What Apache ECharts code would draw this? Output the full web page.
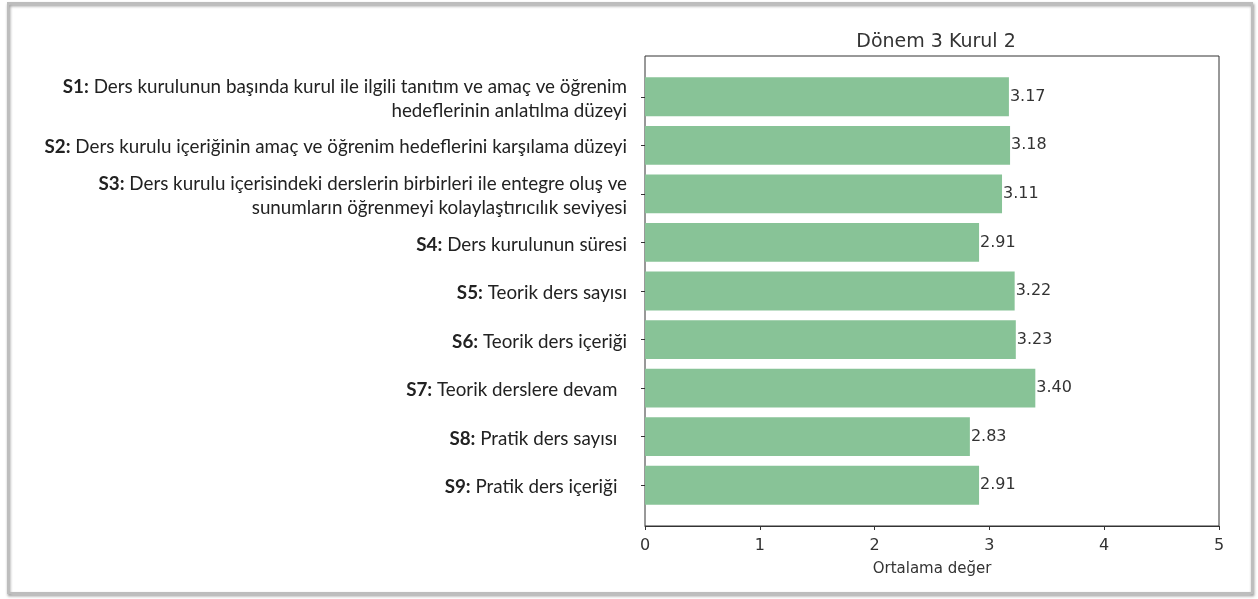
<!DOCTYPE html>
<html>
<head>
<meta charset="utf-8">
<script src="https://cdn.jsdelivr.net/npm/echarts@6/dist/echarts.min.js"></script>
<style>
  html, body { margin: 0; padding: 0; background: #fff; }
  #main { width: 1258px; height: 599px; }
</style>
</head>
<body>
<div id="main"></div>
<script>
// soru kodlari ve metinleri
var codes = ['S1:', 'S2:', 'S3:', 'S4:', 'S5:', 'S6:', 'S7:', 'S8:', 'S9:'];
var texts = [
  'Ders kurulunun başında kurul ile ilgili tanıtım ve amaç ve öğrenim\nhedeflerinin anlatılma düzeyi',
  'Ders kurulu içeriğinin amaç ve öğrenim hedeflerini karşılama düzeyi',
  'Ders kurulu içerisindeki derslerin birbirleri ile entegre oluş ve\nsunumların öğrenmeyi kolaylaştırıcılık seviyesi',
  'Ders kurulunun süresi',
  'Teorik ders sayısı',
  'Teorik ders içeriği',
  'Teorik derslere devam  ',
  'Pratik ders sayısı  ',
  'Pratik ders içeriği  '
];
var values = [3.17, 3.18, 3.11, 2.91, 3.22, 3.23, 3.40, 2.83, 2.91];
var xTicks = [0, 1, 2, 3, 4, 5];

var chart = echarts.init(document.getElementById('main'), null, { renderer: 'canvas' });

var gridLeft = 645, gridRight = 39, frameTop = 56, frameBottom = 73;
// matplotlib kenar payi: cubuklar -0.4..8.4, %5 pay -> -0.84..8.84
var unit = (599 - frameTop - frameBottom) / 9.68;
var pad = 0.34 * unit;

var option = {
  animation: false,
  backgroundColor: '#fff',
  title: {
    text: 'Dönem 3 Kurul 2',
    left: 931,
    textAlign: 'center',
    top: 28,
    textStyle: { fontFamily: 'DejaVu Sans', fontSize: 19, fontWeight: 'normal', color: '#333' }
  },
  graphic: [
    {
      type: 'rect',
      shape: { x: 8, y: 3, width: 1244, height: 590 },
      style: {
        fill: 'rgba(0,0,0,0)',
        stroke: '#bdbdbd',
        lineWidth: 2,
        shadowBlur: 3,
        shadowOffsetX: 1,
        shadowOffsetY: 2,
        shadowColor: 'rgba(0,0,0,0.5)'
      },
      z: -1
    }
  ],
  grid: [
    { left: gridLeft, right: gridRight, top: frameTop + pad, bottom: frameBottom + pad },
    { left: gridLeft, right: gridRight, top: frameTop, bottom: frameBottom, show: true,
      borderColor: '#333', borderWidth: 1, backgroundColor: 'transparent' }
  ],
  xAxis: [
    { gridIndex: 0, type: 'value', min: 0, max: 5, show: false },
    {
      gridIndex: 1, type: 'value', min: 0, max: 5, interval: 1,
      name: 'Ortalama değer', nameLocation: 'middle', nameGap: 36,
      nameTextStyle: { fontFamily: 'DejaVu Sans', fontSize: 15, color: '#333' },
      axisLine: { show: true, lineStyle: { color: '#333' } },
      axisTick: { show: true, length: 4, lineStyle: { color: '#333' } },
      axisLabel: { fontFamily: 'DejaVu Sans', fontSize: 16, color: '#333', margin: 12,
        formatter: function (v) { return xTicks.indexOf(v) >= 0 ? String(v) : ''; } },
      splitLine: { show: false }
    }
  ],
  yAxis: [
    {
      gridIndex: 0, type: 'category', inverse: true,
      data: texts,
      axisLine: { show: false },
      axisTick: { show: true, alignWithLabel: true, length: 4, lineStyle: { color: '#333' } },
      axisLabel: {
        margin: 18,
        lineHeight: 24,
        padding: [4, 0, 0, 0],
        formatter: function (v, i) {
          var lines = v.split('\n');
          var out = '{b|' + codes[i] + '}{t| ' + lines[0] + '}';
          for (var k = 1; k < lines.length; k++) out += '\n{t|' + lines[k] + '}';
          return out;
        },
        rich: {
          b: { fontFamily: 'Lato', fontWeight: 'bold', fontSize: 18.8, color: '#222', lineHeight: 24 },
          t: { fontFamily: 'Lato', fontSize: 18.8, color: '#222', lineHeight: 24 }
        }
      }
    },
    { gridIndex: 1, type: 'value', min: 0, max: 1, show: false }
  ],
  series: [
    {
      type: 'bar',
      xAxisIndex: 0,
      yAxisIndex: 0,
      data: values,
      barWidth: '80%',
      itemStyle: { color: '#88c397' },
      label: {
        show: true,
        position: 'right',
        distance: 1,
        fontFamily: 'DejaVu Sans',
        fontSize: 16,
        color: '#333',
        formatter: function (p) { return p.value.toFixed(2); }
      }
    }
  ]
};

chart.setOption(option);
</script>
</body>
</html>
